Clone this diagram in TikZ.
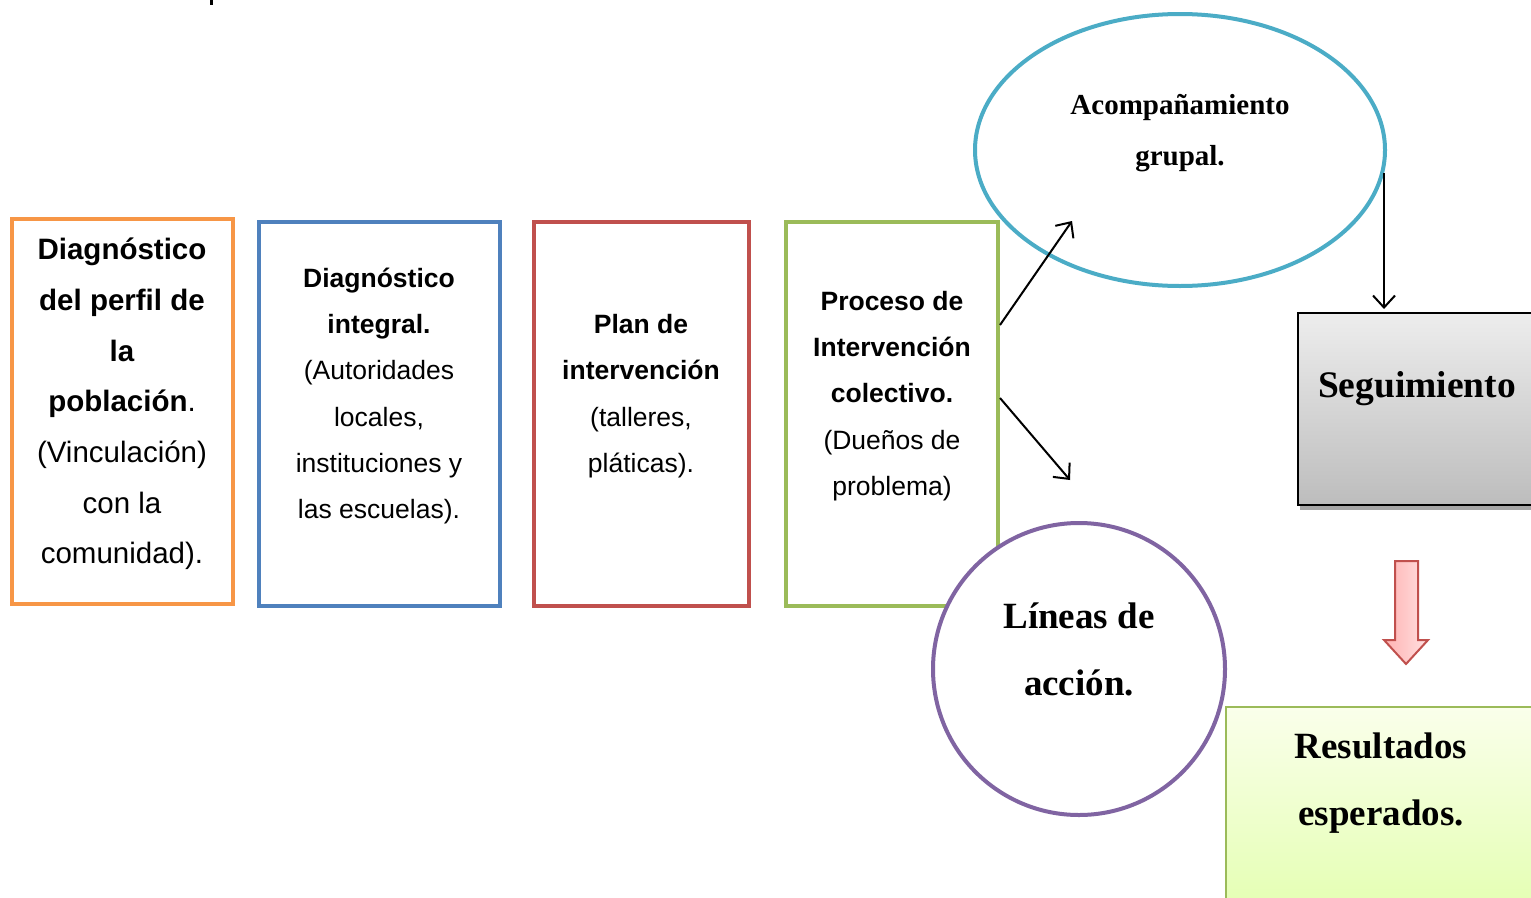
\documentclass[tikz,border=0pt]{standalone}
\usepackage{fontspec}
\setmainfont{Liberation Sans}
\newfontfamily\serifb{Liberation Serif}
\usetikzlibrary{arrows.meta}
\definecolor{cOrange}{HTML}{F79646}
\definecolor{cBlue}{HTML}{4F81BD}
\definecolor{cRed}{HTML}{C0504D}
\definecolor{cGreen}{HTML}{9BBB59}
\definecolor{cTeal}{HTML}{4BACC6}
\definecolor{cPurple}{HTML}{8064A2}
\tikzset{
  box/.style={draw, line width=4pt, rectangle, inner sep=0pt, fill=white},
  big/.style={font={\fontsize{29.5}{50.7}\selectfont}, align=center, inner sep=0pt},
  small/.style={font={\fontsize{26.5}{46.3}\selectfont}, align=center, inner sep=0pt},
  arr/.style={line width=2pt, -{Straight Barb[length=12pt,width=22pt,line width=2pt]}},
}
\begin{document}
\begin{tikzpicture}[x=1pt,y=-1pt]
\useasboundingbox (0,0) rectangle (1531,897);
\clip (0,0) rectangle (1531,897);
\fill (210,0) rectangle (213,5);
% boxes
\node[box, draw=cOrange, minimum width=221pt, minimum height=385pt] (b1) at (122.5,411.5) {};
\node[box, draw=cBlue, minimum width=241pt, minimum height=384pt] (b2) at (379.5,414) {};
\node[box, draw=cRed, minimum width=215pt, minimum height=384pt] (b3) at (641.5,414) {};
\node[box, draw=cGreen, minimum width=212pt, minimum height=384pt] (b4) at (892,414) {};
\node[big] (t1) at (122,404) {\textbf{Diagnóstico}\\\textbf{del perfil de}\\\textbf{la}\\\textbf{población}.\\(Vinculación)\\con la\\comunidad).};
\node[small] (t2) at (379,396) {\textbf{Diagnóstico}\\\textbf{integral.}\\(Autoridades\\locales,\\instituciones y\\las escuelas).};
\node[small] (t3) at (641,396) {\textbf{Plan de}\\\textbf{intervención}\\(talleres,\\pláticas).};
\node[small] (t4) at (892,396) {\textbf{Proceso de}\\\textbf{Intervención}\\\textbf{colectivo.}\\(Dueños de\\problema)};
% ellipse
\draw[cTeal, line width=4pt, fill=white] (1180,150) ellipse [x radius=205, y radius=136];
\node[font={\serifb\bfseries\fontsize{29}{51}\selectfont}, align=center, inner sep=0pt] (acomp) at (1180,133) {Acompañamiento\\grupal.};
% circle
\draw[cPurple, line width=4pt, fill=white] (1079,669) circle [radius=146];
\node[font={\serifb\bfseries\fontsize{37}{67}\selectfont}, align=center, inner sep=0pt] (lineas) at (1079,649) {Líneas de\\acción.};
% seguimiento
\fill[gray!70] (1300,317) rectangle (1545,510);
\shade[top color=black!7, bottom color=black!26, draw=black, line width=2pt] (1298,313) rectangle (1545,505);
\node[font={\serifb\bfseries\fontsize{37.5}{40}\selectfont}, inner sep=0pt] (seg) at (1417,389) {Seguimiento};
% resultados
\shade[top color=green!25!yellow!8!white, bottom color=green!35!yellow!30!white, draw=cGreen, line width=2pt] (1226,707) rectangle (1545,910);
\node[font={\serifb\bfseries\fontsize{37}{67}\selectfont}, align=center, inner sep=0pt] (res) at (1381,783) {Resultados\\esperados.};
% red block arrow
\shade[left color=red!30!white, right color=red!12!white, draw=cRed, line width=2pt, line join=miter]
  (1395,561) -- (1418,561) -- (1418,640) -- (1428,640) -- (1406,664) -- (1384,640) -- (1395,640) -- cycle;
% connectors
\coordinate (e1) at (1072,221);
\coordinate (e2) at (1070,480);
\coordinate (s1) at (1384,173);
\coordinate (s2) at (1384,309);
\draw[arr] (b4.east |- 0,325) -- (e1);
\draw[arr] (b4.east |- 0,398) -- (e2);
\draw[arr] (s1) -- (s2);
\end{tikzpicture}
\end{document}
